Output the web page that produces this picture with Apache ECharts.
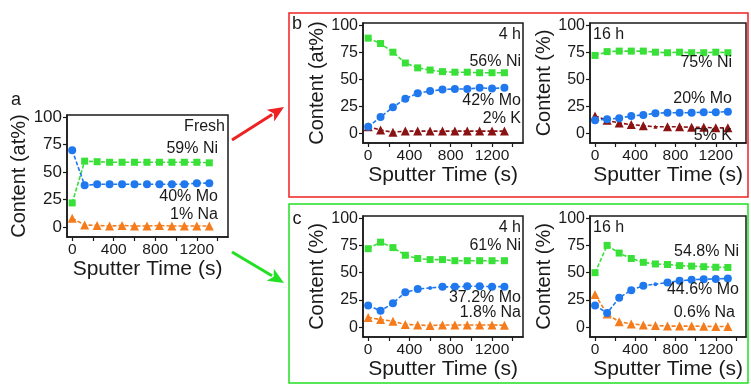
<!DOCTYPE html>
<html>
<head>
<meta charset="utf-8">
<script src="https://cdn.jsdelivr.net/npm/echarts@6/dist/echarts.min.js"></script>
<style>
  html, body { margin: 0; padding: 0; background: #fff; }
  #chart { width: 751px; height: 385px; }
</style>
</head>
<body>
<div id="chart"></div>
<script>
// Sputter depth profiles: content (at%) versus sputter time (s)
const times = [0, 120, 240, 360, 480, 600, 720, 840, 960, 1080, 1200, 1320];
const timeTicks = [0, 200, 400, 600, 800, 1000, 1200, 1400];
const timeLabels = [0, 400, 800, 1200];
const contentTicks = [0, 25, 50, 75, 100];

// (a) fresh sample
const niFresh = [22, 60, 59.5, 59, 59, 59, 59, 59, 59, 59, 59, 58.5];
const moFresh = [70, 38, 39, 39, 39, 39, 39, 39, 39, 39, 40, 40];
const naFresh = [8, 2, 1.5, 1, 1.5, 1, 1, 1.5, 1, 1, 1, 1];

// (b) K electrolyte, 4 h and 16 h
const niK4h = [88, 83, 75, 65, 60.5, 58.5, 57, 56.5, 56.5, 56, 56, 56];
const moK4h = [6, 15, 24, 32, 37, 39, 40.5, 41, 41, 42, 41.5, 42];
const kK4h = [6, 3, 1, 2, 2, 2, 2, 2, 2, 2, 2, 2];
const niK16h = [72, 75.5, 76, 76, 76, 75, 74.5, 75, 74.5, 74.5, 75, 74.5];
const moK16h = [12, 13, 14, 16, 17, 18.5, 19, 19, 19, 19.5, 19.5, 20];
const kK16h = [16, 12, 9.5, 8, 7, 6, 6, 6, 5.5, 5.5, 5, 5];

// (c) Na electrolyte, 4 h and 16 h
const niNa4h = [72, 78, 73, 66, 63, 62, 62, 61, 61, 61, 61, 61];
const moNa4h = [20, 15, 22, 32, 35, 36, 37, 37, 37.5, 37.5, 37.2, 37.2];
const naNa4h = [9, 7, 5.5, 2.5, 2, 1.5, 2, 2, 2, 2, 2, 1.8];
const niNa16h = [50, 75, 68, 63, 59.5, 58, 57.5, 56.5, 56, 55.5, 55, 54.8];
const moNa16h = [20, 13, 27, 34, 38, 39.5, 41, 42.5, 43.5, 44, 44.3, 44.6];
const naNa16h = [30, 12, 5, 3, 2, 1.5, 1, 1, 1, 0.8, 0.6, 0.6];

const FONT = "'Liberation Sans', Arial, sans-serif";
const C_NI = '#38e038';
const C_MO = '#1f78ee';
const C_NA = '#f57c1c';
const C_K = '#8a1212';
const INK = '#1a1a1a';

// panel frames: [left, top, width, height]
const panels = [
  { box: [67, 115, 161, 122], yName: 'Content (at%)', yFont: 17,
    series: [[niFresh, C_NI, 'rect'], [moFresh, C_MO, 'circle'], [naFresh, C_NA, 'triangle']] },
  { box: [363, 23, 160, 120], yName: 'Content (at%)', yFont: 16,
    series: [[niK4h, C_NI, 'rect'], [moK4h, C_MO, 'circle'], [kK4h, C_K, 'triangle']] },
  { box: [590, 23, 156, 120], yName: 'Content (%)', yFont: 16,
    series: [[niK16h, C_NI, 'rect'], [moK16h, C_MO, 'circle'], [kK16h, C_K, 'triangle', [5]]] },
  { box: [363, 216, 160, 121], yName: 'Content (%)', yFont: 16,
    series: [[niNa4h, C_NI, 'rect'], [moNa4h, C_MO, 'circle', [5]], [naNa4h, C_NA, 'triangle']] },
  { box: [590, 216, 156, 121], yName: 'Content (%)', yFont: 16,
    series: [[niNa16h, C_NI, 'rect'], [moNa16h, C_MO, 'circle', [5]], [naNa16h, C_NA, 'triangle']] }
];

const grids = [], xAxes = [], yAxes = [], seriesList = [];
panels.forEach((p, i) => {
  const [l, t, w, h] = p.box;
  grids.push({ left: l, top: t, width: w, height: h, show: true,
    borderColor: INK, borderWidth: 1.5, backgroundColor: 'transparent' });
  xAxes.push({
    gridIndex: i, type: 'value', min: -50, max: 1500,
    name: 'Sputter Time (s)', nameLocation: 'middle', nameGap: 20,
    nameTextStyle: { fontFamily: FONT, fontSize: 21, color: INK },
    axisLine: { show: true, onZero: false, lineStyle: { color: INK, width: 1.5 } },
    axisTick: { show: true, inside: false, length: 4, customValues: timeTicks,
      lineStyle: { color: INK, width: 1.2 } },
    axisLabel: { customValues: timeLabels, formatter: v => String(v),
      fontFamily: FONT, fontSize: 15.5, color: INK, margin: 5 },
    splitLine: { show: false }
  });
  yAxes.push({
    gridIndex: i, type: 'value', min: -9, max: 102,
    name: p.yName, nameLocation: 'middle', nameGap: 34, nameRotate: 90,
    nameTextStyle: { fontFamily: FONT, fontSize: 20, color: INK },
    axisLine: { show: true, onZero: false, lineStyle: { color: INK, width: 1.5 } },
    axisTick: { show: true, inside: false, length: 4, customValues: contentTicks,
      lineStyle: { color: INK, width: 1.2 } },
    axisLabel: { customValues: contentTicks, formatter: v => String(v),
      fontFamily: FONT, fontSize: p.yFont, color: INK, margin: 5 },
    splitLine: { show: false }
  });
  p.series.forEach(([vals, color, symbol, smallIdx]) => {
    const size = symbol === 'rect' ? 7 : (symbol === 'circle' ? 8 : 9);
    seriesList.push({
      type: 'line', xAxisIndex: i, yAxisIndex: i,
      data: vals.map((v, k) => {
        const item = { value: [times[k], v] };
        if (smallIdx && smallIdx.includes(k)) item.symbolSize = 4;
        return item;
      }),
      symbol: symbol, symbolSize: size, showSymbol: true,
      itemStyle: { color: color },
      lineStyle: { color: color, width: 1.6, type: [4, 2] },
      animation: false, z: symbol === 'circle' ? 3 : 2
    });
  });
});

// text annotations: [text, x, y, align]
const notes = [
  ['Fresh', 225, 127, 'right'], ['59% Ni', 218, 149, 'right'],
  ['40% Mo', 218, 197, 'right'], ['1% Na', 218, 215, 'right'],
  ['4 h', 521, 35, 'right'], ['56% Ni', 521, 62, 'right'],
  ['42% Mo', 521, 101, 'right'], ['2% K', 521, 119, 'right'],
  ['16 h', 593, 35, 'left'], ['75% Ni', 732, 63, 'right'],
  ['20% Mo', 732, 99, 'right'], ['5% K', 732, 136, 'right'],
  ['4 h', 521, 228, 'right'], ['61% Ni', 521, 246, 'right'],
  ['37.2% Mo', 521, 298, 'right'], ['1.8% Na', 521, 313, 'right'],
  ['16 h', 593, 228, 'left'], ['54.8% Ni', 739, 252, 'right'],
  ['44.6% Mo', 739, 290, 'right'], ['0.6% Na', 735, 313, 'right']
];

const graphics = notes.map(([txt, x, y, align]) => ({
  type: 'text', x: x, y: y, z: 10,
  style: { text: txt, font: '16px ' + FONT, fill: INK, align: align, verticalAlign: 'middle' }
}));

// panel letters
[['a', 16, 100], ['b', 297, 24], ['c', 297, 219]].forEach(([t, x, y]) => {
  graphics.push({ type: 'text', x: x, y: y, z: 10,
    style: { text: t, font: '18px ' + FONT, fill: INK, align: 'center', verticalAlign: 'middle' } });
});

// frames grouping the electrolyte panels
graphics.push({ type: 'rect', shape: { x: 289, y: 13, width: 459, height: 184 },
  style: { fill: 'none', stroke: '#ee2222', lineWidth: 1.5 } });
graphics.push({ type: 'rect', shape: { x: 289, y: 204, width: 459, height: 179 },
  style: { fill: 'none', stroke: '#22e022', lineWidth: 1.5 } });

// arrows from the fresh panel to the frames
function arrow(x1, y1, x2, y2, color) {
  const dx = x2 - x1, dy = y2 - y1, len = Math.hypot(dx, dy);
  const ux = dx / len, uy = dy / len, px = -uy, py = ux;
  const hl = 16, hw = 7;
  const bx = x2 - ux * hl, by = y2 - uy * hl;
  graphics.push({ type: 'line', shape: { x1: x1, y1: y1, x2: bx + ux * 2, y2: by + uy * 2 },
    style: { stroke: color, lineWidth: 3 } });
  graphics.push({ type: 'polygon',
    shape: { points: [[x2, y2], [bx + px * hw, by + py * hw], [bx + ux * 4, by + uy * 4], [bx - px * hw, by - py * hw]] },
    style: { fill: color } });
}
arrow(232, 140, 284, 107, '#ee2222');
arrow(232, 252, 284, 283, '#22e022');

const chart = echarts.init(document.getElementById('chart'), null, { renderer: 'canvas' });
chart.setOption({
  animation: false,
  backgroundColor: '#fff',
  grid: grids,
  xAxis: xAxes,
  yAxis: yAxes,
  series: seriesList,
  graphic: graphics
});
</script>
</body>
</html>
